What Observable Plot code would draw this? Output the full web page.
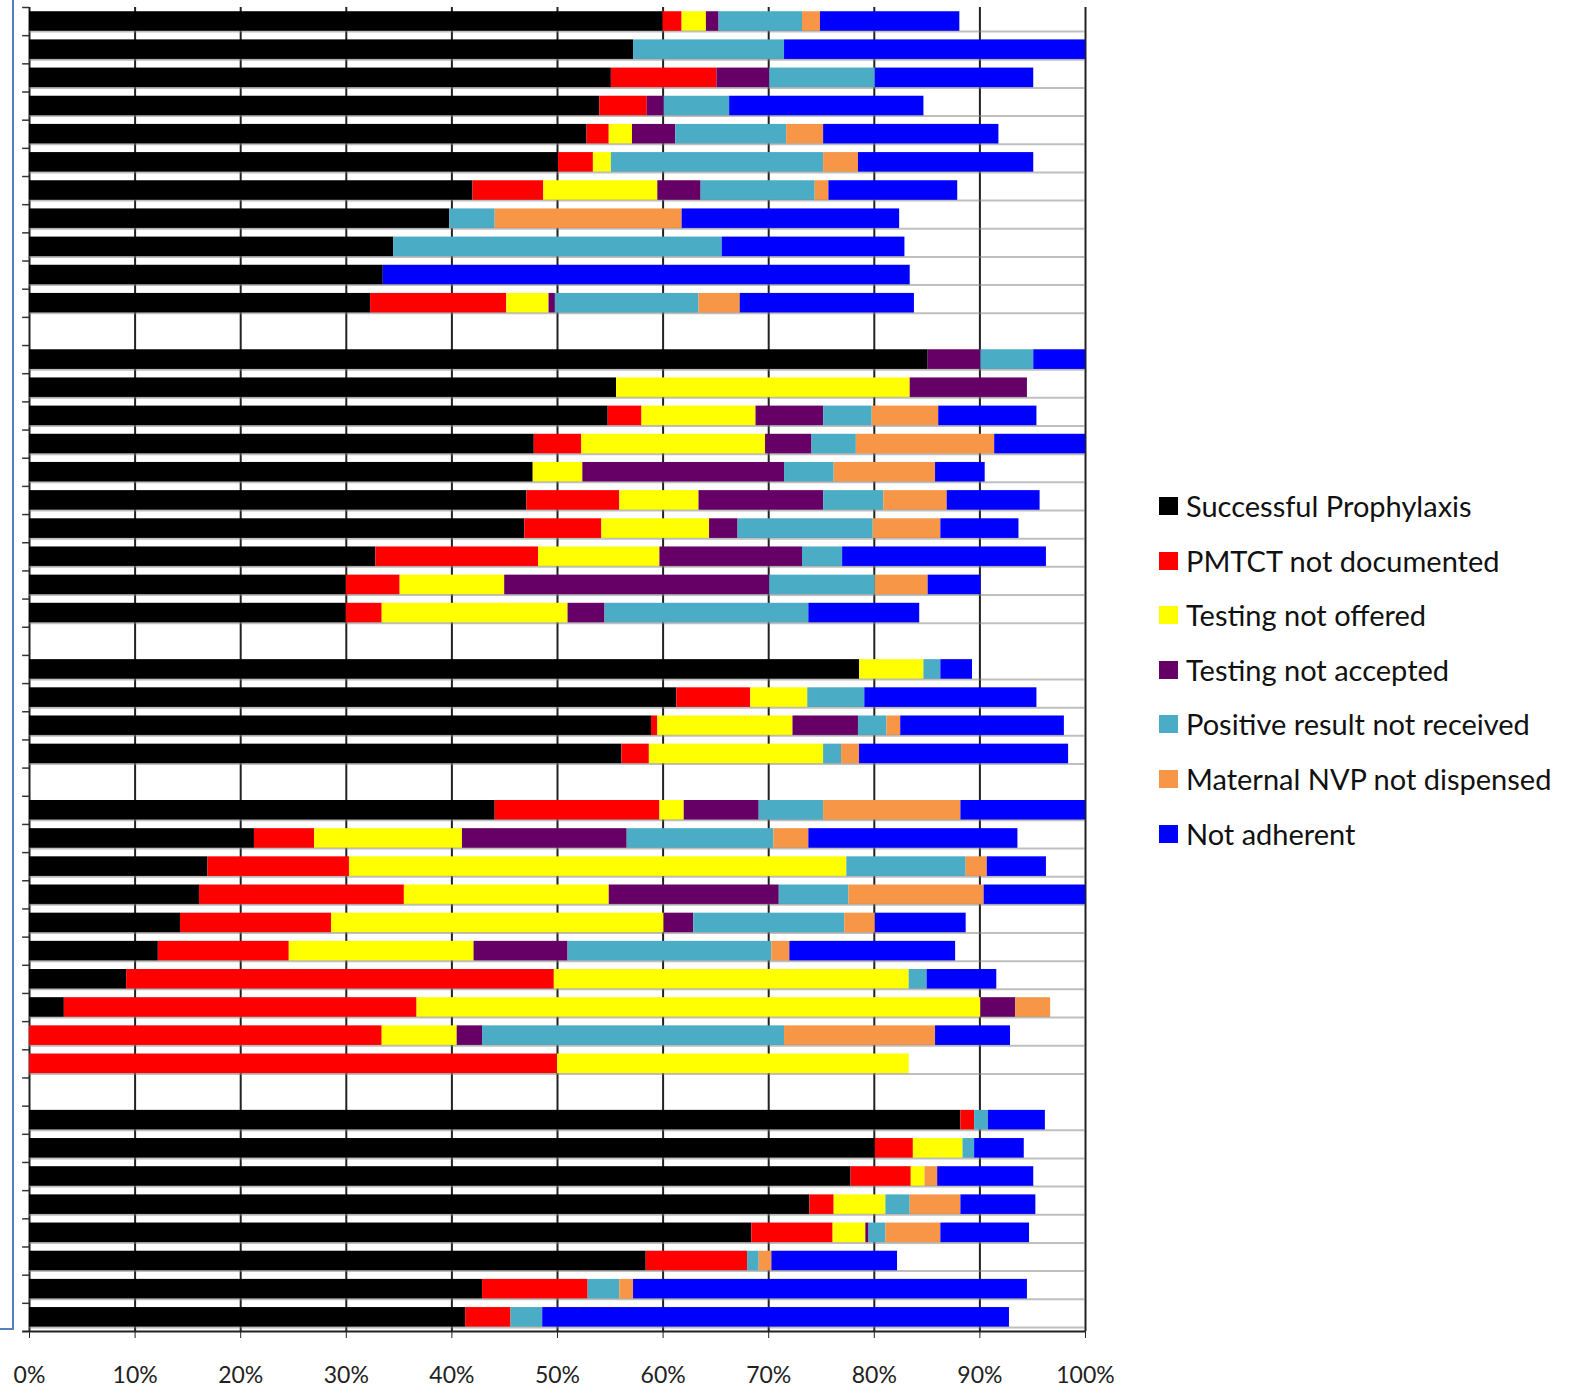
<!DOCTYPE html>
<html>
<head>
<meta charset="utf-8">
<script src="https://cdn.jsdelivr.net/npm/d3@7"></script>
<script src="https://cdn.jsdelivr.net/npm/@observablehq/plot@0.6"></script>
<style>
html, body { margin: 0; padding: 0; background: #fff; }
#wrap { position: relative; width: 1574px; height: 1388px; overflow: hidden; font-family: Lato, "Open Sans", sans-serif; }
#chart { position: absolute; left: 0; top: 0; }
#frame { position: absolute; left: 0; top: 0; width: 12px; height: 1328px; border-right: 2.5px solid #5581bf; border-bottom: 2.5px solid #5581bf; z-index: 2; }
.item { position: absolute; left: 1159px; display: flex; align-items: center; height: 30px; }
.sw { width: 19px; height: 18px; margin-right: 8px; flex: none; }
.lab { font-size: 29px; color: #111; white-space: nowrap; line-height: 30px; }
</style>
</head>
<body>
<div id="wrap"><div id="chart"></div><div id="frame"></div><div id="legend"></div></div>
<script>
// Row identifiers (five groups separated by empty rows)
const rows = [
  "A1","A2","A3","A4","A5","A6","A7","A8","A9","A10","A11","gap1",
  "B1","B2","B3","B4","B5","B6","B7","B8","B9","B10","gap2",
  "C1","C2","C3","C4","gap3",
  "D1","D2","D3","D4","D5","D6","D7","D8","D9","D10","gap4",
  "E1","E2","E3","E4","E5","E6","E7","E8"
];

const seriesNames = [
  "Successful Prophylaxis",
  "PMTCT not documented",
  "Testing not offered",
  "Testing not accepted",
  "Positive result not received",
  "Maternal NVP not dispensed",
  "Not adherent"
];
const seriesColors = ["#000000", "#ff0000", "#ffff00", "#660066", "#4bacc6", "#f79646", "#0000ff"];

// Segment widths (%) per row, null for empty rows
const successful = [60.0,57.2,55.1,54.0,52.8,50.1,42.0,39.8,34.5,33.5,32.3, null,
  85.1,55.6,54.8,47.8,47.7,47.1,46.9,32.8,30.0,30.0, null,
  78.6,61.3,58.9,56.1, null,
  44.1,21.3,16.9,16.1,14.3,12.2,9.2,3.3,0,0, null,
  88.2,80.1,77.8,73.9,68.4,58.4,42.9,41.3];
const pmtctNotDocumented = [1.8,0,10.0,4.5,2.1,3.3,6.7,0,0,0,12.9, null,
  0,0,3.2,4.5,0,8.8,7.3,15.4,5.1,3.4, null,
  0,7.0,0.6,2.6, null,
  15.6,5.7,13.4,19.4,14.3,12.4,40.5,33.4,33.4,50.0, null,
  1.3,3.6,5.7,2.3,7.7,9.6,10.0,4.3];
const testingNotOffered = [2.3,0,0,0,2.2,1.7,10.8,0,0,0,4.0, null,
  0,27.8,10.8,17.4,4.7,7.5,10.2,11.5,9.9,17.6, null,
  6.1,5.4,12.8,16.5, null,
  2.3,14.0,47.1,19.4,31.5,17.5,33.6,53.4,7.1,33.3, null,
  0,4.7,1.3,4.9,3.1,0,0,0];
const testingNotAccepted = [1.2,0,5.0,1.6,4.1,0,4.1,0,0,0,0.6, null,
  5.0,11.1,6.4,4.4,19.1,11.8,2.7,13.5,25.1,3.5, null,
  0,0,6.2,0, null,
  7.1,15.6,0,16.1,2.8,8.9,0,3.3,2.4,0, null,
  0,0,0,0,0.3,0,0,0];
const positiveNotReceived = [7.9,14.3,10.0,6.2,10.5,20.1,10.8,4.3,31.1,0,13.6, null,
  5.0,0,4.6,4.2,4.7,5.7,12.8,3.8,10.0,19.3, null,
  1.6,5.4,2.7,1.7, null,
  6.1,13.9,11.3,6.6,14.3,19.3,1.7,0,28.6,0, null,
  1.3,1.1,0,2.3,1.6,1.1,3.0,3.0];
const nvpNotDispensed = [1.7,0,0,0,3.5,3.3,1.3,17.7,0,0,3.9, null,
  0,0,6.3,13.1,9.6,6.0,6.4,0,5.0,0, null,
  0,0,1.3,1.7, null,
  13.0,3.3,2.0,12.8,2.9,1.7,0,3.3,14.3,0, null,
  0,0,1.2,4.8,5.2,1.2,1.3,0];
const notAdherent = [13.2,28.5,15.0,18.4,16.6,16.6,12.2,20.6,17.3,49.9,16.5, null,
  4.9,0,9.3,8.6,4.7,8.8,7.4,19.3,5.0,10.5, null,
  3.0,16.3,15.5,19.8, null,
  11.8,19.8,5.6,9.6,8.6,15.7,6.6,0,7.1,0, null,
  5.4,4.7,9.1,7.1,8.4,11.9,37.3,44.2];

const xTicks = [0,10,20,30,40,50,60,70,80,90,100];

const seriesArrays = [successful, pmtctNotDocumented, testingNotOffered, testingNotAccepted,
  positiveNotReceived, nvpNotDispensed, notAdherent];

const data = [];
rows.forEach((r, i) => {
  seriesArrays.forEach((arr, s) => {
    if (arr[i] != null) data.push({row: r, series: seriesNames[s], value: arr[i]});
  });
});
const barRows = rows.filter((r, i) => successful[i] != null);

const W = 1125, H = 1388, mT = 7, mB = 57, mL = 29, mR = 40;
const step = (H - mT - mB) / rows.length;

const chart = Plot.plot({
  width: W, height: H,
  marginTop: mT, marginBottom: mB, marginLeft: mL, marginRight: mR,
  style: {fontFamily: "Lato, 'Open Sans', sans-serif", background: "transparent", overflow: "visible"},
  x: {domain: [0, 100], label: null},
  y: {domain: rows, paddingInner: 0.3, paddingOuter: 0.15, round: false, axis: null},
  color: {domain: seriesNames, range: seriesColors},
  marks: [
    Plot.ruleX(xTicks, {stroke: "#222", strokeWidth: 2}),
    Plot.barX(data, {x: "value", y: "row", fill: "series"}),
    Plot.ruleY(barRows, {y: d => d, x1: 0, x2: 100, dy: 10, stroke: "#808080", strokeOpacity: 0.5, strokeWidth: 2}),
    Plot.ruleY(rows, {y: d => d, x1: -0.65, x2: 0, dy: -step / 2, stroke: "#333", strokeWidth: 1.5}),
    Plot.ruleY([rows[rows.length - 1]], {y: d => d, x1: -0.65, x2: 100, dy: step / 2, stroke: "#222", strokeWidth: 2}),
    Plot.axisX({ticks: xTicks, tickFormat: d => d + "%", tickSize: 7, tickPadding: 28, fontSize: 23, color: "#222", label: null})
  ]
});
document.getElementById("chart").appendChild(chart);

const legend = document.getElementById("legend");
seriesNames.forEach((name, k) => {
  const item = document.createElement("div");
  item.className = "item";
  item.style.top = (506 + k * 54.6 - 15) + "px";
  const sw = document.createElement("div");
  sw.className = "sw";
  sw.style.background = seriesColors[k];
  const lab = document.createElement("span");
  lab.className = "lab";
  lab.textContent = name;
  item.appendChild(sw);
  item.appendChild(lab);
  legend.appendChild(item);
});
</script>
</body>
</html>
